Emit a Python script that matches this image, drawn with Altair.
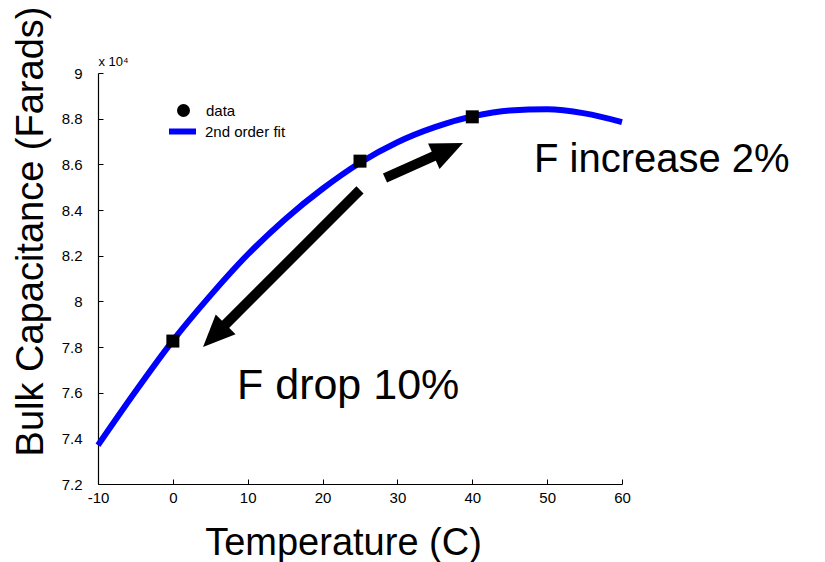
import altair as alt
import pandas as pd

# ---- data (capacitance in units of 10^4 F) ----
fit_temp = [-10, -5, 0, 5, 10, 15, 20, 25, 30, 35, 40, 45, 50, 55, 60]
fit_cap = [7.37, 7.605, 7.828, 8.025, 8.205, 8.36, 8.493, 8.607, 8.697, 8.763, 8.81, 8.836, 8.841, 8.823, 8.785]

data_temp = [0, 25, 40]
data_cap = [7.826, 8.614, 8.808]

series_names = ["data", "2nd order fit"]

# arrows (tail, head base, tip in data units; heading in degrees)
arrow_tail_x = [25.0, 28.34]
arrow_tail_y = [8.488, 8.540]
arrow_base_x = [6.67, 35.35]
arrow_base_y = [7.887, 8.643]
arrow_tip_x = [4.03, 38.76]
arrow_tip_y = [7.800, 8.693]
arrow_angle = [225, 65.8]

drop_text, drop_x, drop_y = ["F drop 10%"], [8.57], [7.572]
incr_text, incr_x, incr_y = ["F increase 2%"], [48.24], [8.566]

x_ticks = [-10, 0, 10, 20, 30, 40, 50, 60]
y_ticks = [7.2, 7.4, 7.6, 7.8, 8.0, 8.2, 8.4, 8.6, 8.8, 9.0]

FONT = "Liberation Sans"
W, H = 524, 411

fit_df = pd.DataFrame({"T": fit_temp, "C": fit_cap, "s": series_names[1]})
pts_df = pd.DataFrame({"T": data_temp, "C": data_cap, "s": series_names[0]})
arr_df = pd.DataFrame({
    "tx": arrow_tail_x, "ty": arrow_tail_y,
    "bx": arrow_base_x, "by": arrow_base_y,
    "px": arrow_tip_x, "py": arrow_tip_y, "ang": arrow_angle,
})
drop_df = pd.DataFrame({"t": drop_text, "x": drop_x, "y": drop_y})
incr_df = pd.DataFrame({"t": incr_text, "x": incr_x, "y": incr_y})

xscale = alt.Scale(domain=[-10, 60], nice=False, zero=False)
yscale = alt.Scale(domain=[7.2, 9.0], nice=False, zero=False)

INWARD = alt.ExprRef(expr="-5")

xaxis = alt.Axis(
    values=x_ticks, grid=False, ticks=True, tickSize=INWARD, tickColor="black",
    labelPadding=11, labelFlush=False, domainColor="black",
    labelExpr="'' + datum.value",
    labelColor="black", labelFont=FONT, labelFontSize=15, title="Temperature (C)",
    titleFont=FONT, titleFontSize=38, titleFontWeight="normal", titleColor="black",
    titleX=245, titleY=70, titleBaseline="alphabetic", titleAnchor="middle",
)
yaxis = alt.Axis(
    values=y_ticks, grid=False, ticks=True, tickSize=INWARD, tickColor="black",
    labelPadding=21, labelFlush=False, domainColor="black",
    labelColor="black", labelFont=FONT, labelFontSize=15, labelExpr="format(datum.value, '~g')",
    title="Bulk Capacitance (Farads)", titleFont=FONT, titleFontSize=38,
    titleFontWeight="normal", titleColor="black", titleAngle=-90,
    titleX=-56, titleY=158, titleBaseline="alphabetic", titleAlign="center",
)

line = alt.Chart(fit_df).mark_line(strokeWidth=6, interpolate="monotone").encode(
    x=alt.X("T:Q", scale=xscale, axis=xaxis),
    y=alt.Y("C:Q", scale=yscale, axis=yaxis),
    stroke=alt.Stroke(
        "s:N", scale=alt.Scale(domain=[series_names[1]], range=["blue"]),
        legend=alt.Legend(
            title=None, orient="none", legendX=68, legendY=42, padding=0,
            labelFont=FONT, labelFontSize=15, labelColor="black", labelOffset=6,
            symbolType="stroke", symbolSize=729, symbolStrokeWidth=6,
            symbolStrokeColor="blue",
        ),
    ),
)

pts = alt.Chart(pts_df).mark_point(shape="square", size=169, filled=True, opacity=1).encode(
    x=alt.X("T:Q", scale=xscale, axis=None),
    y=alt.Y("C:Q", scale=yscale, axis=None),
    fill=alt.Fill(
        "s:N", scale=alt.Scale(domain=[series_names[0]], range=["black"]),
        legend=alt.Legend(
            title=None, orient="none", legendX=78, legendY=30, padding=0,
            labelFont=FONT, labelFontSize=15, labelColor="black", labelOffset=15,
            symbolType="circle", symbolSize=169, symbolStrokeWidth=0,
            symbolOpacity=1,
        ),
    ),
)

# exponent label above the y axis
expo = alt.Chart(pts_df).mark_point(opacity=0).encode(
    x=alt.X("T:Q", scale=xscale, axis=None),
    y=alt.Y("C:Q", scale=yscale, axis=alt.Axis(
        orient="right", offset=-W, values=y_ticks, labels=False, domain=False,
        grid=False, ticks=False,
        title="x 10⁴", titleAngle=0, titleFont=FONT, titleFontSize=13,
        titleFontWeight="normal", titleColor="black", titleX=0, titleY=-8,
        titleAlign="left", titleBaseline="alphabetic")),
)

shaft = alt.Chart(arr_df).mark_rule(strokeWidth=10, color="black", strokeCap="butt").encode(
    x=alt.X("tx:Q", scale=xscale, axis=None), y=alt.Y("ty:Q", scale=yscale, axis=None),
    x2="bx:Q", y2="by:Q",
)
head = alt.Chart(arr_df).mark_point(
    shape="M0,0L0.875,2L-0.875,2Z", size=1024, filled=True, color="black", opacity=1,
).encode(
    x=alt.X("px:Q", scale=xscale, axis=None), y=alt.Y("py:Q", scale=yscale, axis=None),
    angle=alt.Angle("ang:Q", scale=None),
)

drop_note = alt.Chart(drop_df).mark_text(
    font=FONT, fontSize=43, align="left", baseline="alphabetic", color="black",
).encode(
    x=alt.X("x:Q", scale=xscale, axis=None), y=alt.Y("y:Q", scale=yscale, axis=None),
    text="t:N",
)
incr_note = alt.Chart(incr_df).mark_text(
    font=FONT, fontSize=40, align="left", baseline="alphabetic", color="black",
).encode(
    x=alt.X("x:Q", scale=xscale, axis=None), y=alt.Y("y:Q", scale=yscale, axis=None),
    text="t:N",
)

chart = alt.layer(line, pts, expo, shaft, head, drop_note, incr_note).resolve_axis(
    x="independent", y="independent"
).resolve_legend(fill="independent", stroke="independent").properties(
    width=W, height=H,
    autosize=alt.AutoSizeParams(type="none"),
    padding={"left": 90, "top": 65, "right": 190, "bottom": 80},
).configure_view(stroke=None).configure_axis(domainWidth=1.2)

chart.save("out.html", embed_options={"renderer": "svg", "actions": False})
